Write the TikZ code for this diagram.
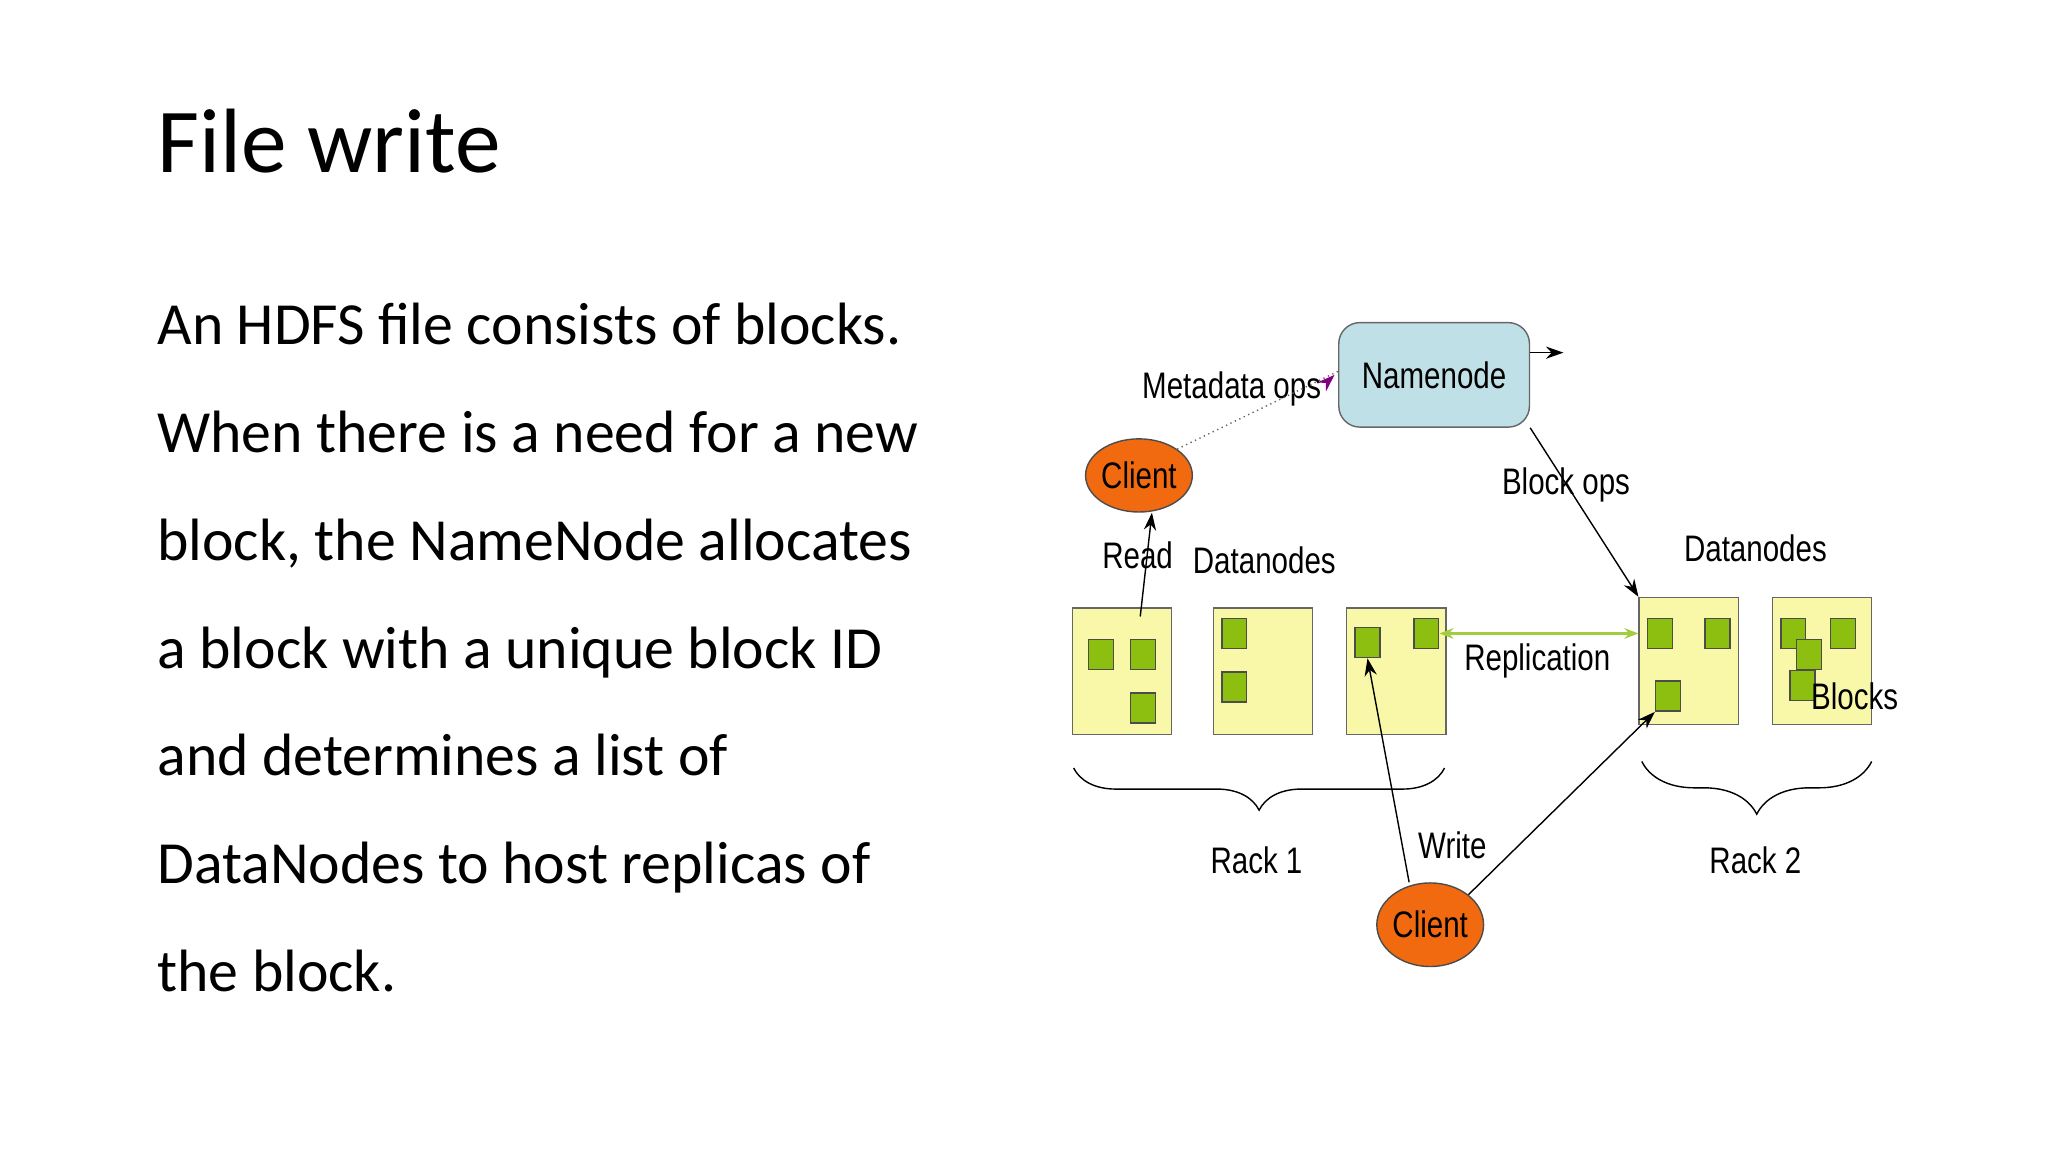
\documentclass[tikz,border=0pt]{standalone}
\usepackage{fontspec}
\setmainfont{Carlito}
\newfontfamily\diag{Liberation Sans}
\usetikzlibrary{shapes.geometric,decorations.pathreplacing,arrows.meta}
\definecolor{nnblue}{HTML}{BFE0E6}
\definecolor{dnyel}{HTML}{F8F8A8}
\definecolor{blkgr}{HTML}{8CBF10}
\definecolor{clor}{HTML}{F26A10}
\newcommand{\nar}[1]{\scalebox{0.8}[1]{#1}}
\begin{document}
\begin{tikzpicture}[x=0.01306cm,y=-0.01306cm,
  lbl/.style={font=\diag\fontsize{10.5}{12}\selectfont, inner sep=0pt},
  dn/.style={draw=black!60, fill=dnyel},
  blk/.style={draw=black!70, fill=blkgr, minimum width=19*0.01306cm, minimum height=23*0.01306cm, inner sep=0pt},
  client/.style={ellipse, draw=black!70, fill=clor, inner sep=0pt, font=\diag\fontsize{10.5}{12}\selectfont},
  arr/.style={-{Stealth[length=5pt,width=3.5pt]}, thin},
  rack/.style={decorate, decoration={brace, mirror, amplitude=#1}}]
\useasboundingbox (0,0) rectangle (1568,882);

% slide text
\node[anchor=base west, inner sep=0pt, font=\fontsize{26}{30}\selectfont] (title) at (120,132) {File write};
\foreach \t [count=\i] in {An HDFS file consists of blocks., When there is a need for a new, {block, the NameNode allocates}, a block with a unique block ID, and determines a list of, DataNodes to host replicas of, the block.}
  \node[anchor=base west, inner sep=0pt, font=\fontsize{17}{20}\selectfont] (line\i) at (120,264+82.5*\i-82.5) {\t};

% namenode
\node[draw=black!60, fill=nnblue, rounded corners=6pt, minimum width=146*0.01306cm, minimum height=80*0.01306cm, lbl] (nn) at (1098,287) {\nar{Namenode}};
\coordinate (nnout) at (1197,270);
\draw[arr] (nn.east |- nnout) -- (nnout);

% clients
\node[client, minimum width=76*0.01306cm, minimum height=56*0.01306cm] (c1) at (872,364) {\nar{Client}};
\node[client, minimum width=76*0.01306cm, minimum height=64*0.01306cm] (c2) at (1095,708) {\nar{Client}};

% datanodes
\foreach \n/\x/\y in {d1/859/514, d2/967/514, d3/1069/514, d4/1293/506, d5/1395/506}
  \node[dn, minimum width=76*0.01306cm, minimum height=97*0.01306cm] (\n) at (\x,\y) {};

% blocks
\foreach \n/\x/\y in {b1/843/501, b2/875/501, b3/875/542, b4/945/485, b5/945/526, b6/1047/492, b7/1092/485,
  b8/1271/485, b9/1315/485, b10/1277/533, b11/1373/485, b12/1411/485, b13/1380/525, b14/1385/501}
  \node[blk] (\n) at (\x,\y) {};

% labels
\node[lbl] (lmeta) at (943,298) {\nar{Metadata ops}};
\node[lbl] (lread) at (871,425) {\nar{Read}};
\node[lbl] (ldn1) at (968,429) {\nar{Datanodes}};
\node[lbl] (lbops) at (1199,371) {\nar{Block ops}};
\node[lbl] (ldn2) at (1344,420) {\nar{Datanodes}};
\node[lbl] (lrep) at (1177,506) {\nar{Replication}};
\node[lbl] (lblk) at (1420,533) {\nar{Blocks}};
\node[lbl] (lwrite) at (1112,647) {\nar{Write}};
\node[lbl] (lr1) at (962,659) {\nar{Rack 1}};
\node[lbl] (lr2) at (1344,659) {\nar{Rack 2}};

% braces
\coordinate (r1a) at (822,588); \coordinate (r1b) at (1106,588);
\coordinate (r2a) at (1257,583); \coordinate (r2b) at (1433,583);
\draw[rack=12pt] (r1a) -- (r1b);
\draw[rack=15pt] (r2a) -- (r2b);

% connectors
\coordinate (readst) at (873,472);
\draw[arr] (readst) -- ([xshift=3.7pt]c1.south);
\draw[densely dotted, black!60] (c1.north east) -- ([yshift=1pt]nn.west);
\draw[-{Stealth[length=5pt,width=3.5pt]}, violet] ([shift={(-8,5)}]nn.west) -- ([xshift=-1pt]nn.west);
\draw[arr] (nn.south east) -- (d4.north west);
\draw[{Stealth[length=4pt,width=3pt]}-{Stealth[length=4pt,width=3pt]}, blkgr!80!white, thick] (b7.east) -- (d4.west |- b7.east);
\draw[arr] ([xshift=-6pt]c2.north) -- (b6.south);
\draw[arr] (c2.north east) -- (b10.south west);
\end{tikzpicture}
\end{document}
